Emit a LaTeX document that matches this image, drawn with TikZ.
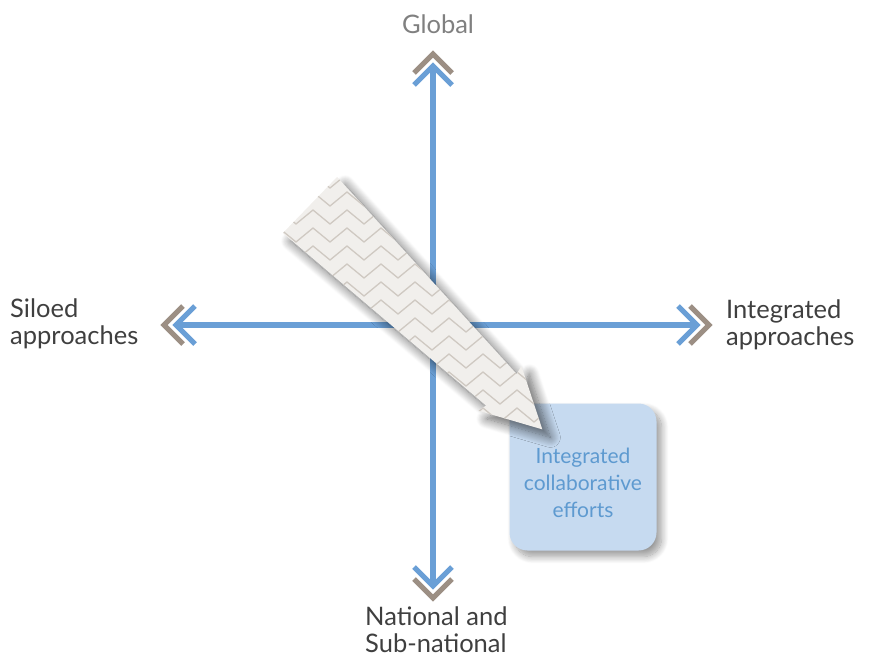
\documentclass[tikz,border=0pt]{standalone}
\usepackage{fontspec}
\setmainfont{Lato}
\usetikzlibrary{shadows.blur}
\definecolor{axisblue}{HTML}{6A9FD6}
\definecolor{chevgray}{HTML}{9C8F84}
\definecolor{labelgray}{HTML}{3F3F3F}
\definecolor{globalgray}{HTML}{808080}
\definecolor{boxfill}{HTML}{C6DAF0}
\definecolor{boxtext}{HTML}{5E9AD0}
\definecolor{arrowfill}{HTML}{F1EFEC}
\definecolor{zigcol}{HTML}{CFC9C2}
\begin{document}
\begin{tikzpicture}[x=1pt,y=-1pt,
  axisline/.style={draw=axisblue, line width=6pt},
  chevron/.pic={
    \draw[chevgray, line width=5pt, miter limit=10] (-7,-19) -- (12,0) -- (-7,19);
    \draw[axisblue, line width=5pt, miter limit=10] (-19,-19) -- (0,0) -- (-19,19);
  },
  label/.style={text=labelgray, font=\fontsize{25.5}{27}\selectfont, align=left, inner sep=0pt},
  quadbox/.style={rounded corners=18pt, fill=boxfill, minimum width=147pt, minimum height=147pt,
    blur shadow={shadow xshift=5pt, shadow yshift=-6pt, shadow blur radius=7pt, shadow blur steps=12, shadow opacity=40}},
  boxlabel/.style={text=boxtext, font=\fontsize{21}{27}\selectfont, align=center, inner sep=0pt},
  bigarrow/.style={fill=arrowfill,
    blur shadow={shadow xshift=8pt, shadow yshift=-8pt, shadow blur radius=10pt, shadow blur steps=14, shadow opacity=60}},
  zig/.style={draw=zigcol, line width=1.3pt}
]
\useasboundingbox (0,0) rectangle (869,659);

% axis end points
\coordinate (O) at (433,325);
\coordinate (top) at (433,66);
\coordinate (bot) at (433,586);
\coordinate (lft) at (176,325);
\coordinate (rgt) at (697,325);
\coordinate (topE) at (433,69);
\coordinate (botE) at (433,583);
\coordinate (lftE) at (179,325);
\coordinate (rgtE) at (694,325);

\draw[axisline] (botE) -- (topE);
\draw[axisline] (lftE) -- (rgtE);
\pic[rotate=90] at (top) {chevron};
\pic[rotate=-90] at (bot) {chevron};
\pic[rotate=180] at (lft) {chevron};
\pic at (rgt) {chevron};

% labels
\node[label, text=globalgray] (global) at (438,24) {Global};
\node[label, anchor=west] (siloed) at (10,324) {Siloed\\approaches};
\node[label, anchor=west] (integ) at (726,325) {Integrated\\approaches};
\node[label, anchor=north west] (nat) at (365,607) {National and\\Sub-national};

% box
\node[quadbox] (box) at (583,477) {};
\node[boxlabel] (boxtxt) at (583,483) {Integrated\\collaborative\\efforts};

% big arrow
\begin{scope}[shift={(310,205)}, rotate=-44]
  \coordinate (a1) at (0,-39);
  \coordinate (a2) at (266,-22);
  \coordinate (a3) at (264,-31);
  \coordinate (a4) at (323,0);
  \coordinate (a5) at (264,31);
  \coordinate (a6) at (266,22);
  \coordinate (a7) at (0,39);
\end{scope}
\fill[bigarrow] (a1) -- (a2) -- (a3) -- (a4) -- (a5) -- (a6) -- (a7) -- cycle;
\begin{scope}
  \clip (a1) -- (a2) -- (a3) -- (a4) -- (a5) -- (a6) -- (a7) -- cycle;
  \foreach \r in {0,...,17} {
    \draw[zig] (262,{170+18*\r}) \foreach \k in {0,...,9} { -- ++(17,-14) -- ++(17,14) };
  }
\end{scope}
\end{tikzpicture}
\end{document}
